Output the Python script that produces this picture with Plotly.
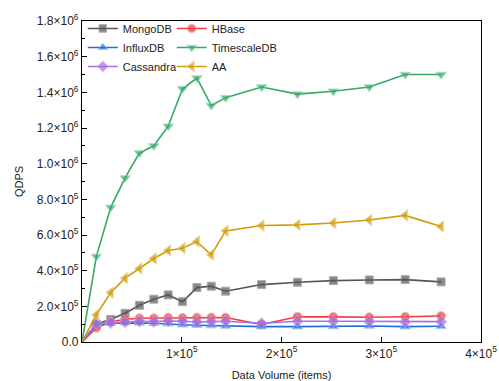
import plotly.graph_objects as go

x_items = [0, 14400, 28800, 43200, 57600, 72000, 86400, 100800, 115200, 129600,
           144000, 180000, 216000, 252000, 288000, 324000, 360000]

mongodb = [0, 100000, 127000, 161000, 206000, 240000, 264000, 226000, 305000, 313000,
           285000, 322000, 335000, 344000, 348000, 350000, 337000]
hbase = [0, 80000, 114000, 127000, 133000, 133000, 137000, 135000, 137000, 137000,
         137000, 98000, 142000, 141000, 139000, 142000, 146000]
influxdb = [0, 100000, 105000, 108000, 107000, 105000, 103000, 97000, 94000, 92000,
            90000, 86000, 86000, 87000, 90000, 86000, 88000]
timescaledb = [0, 480000, 755000, 920000, 1060000, 1100000, 1210000, 1420000, 1480000, 1326000,
               1370000, 1430000, 1390000, 1406000, 1430000, 1500000, 1500000]
cassandra = [0, 103000, 108000, 112000, 116000, 114000, 118000, 116000, 112000, 114000,
             116000, 105000, 116000, 116000, 114000, 112000, 114000]
aa = [0, 152000, 277000, 358000, 412000, 468000, 513000, 526000, 563000, 489000,
      623000, 653000, 657000, 667000, 684000, 710000, 648000]

y_tickvals = [0, 200000, 400000, 600000, 800000, 1000000, 1200000, 1400000, 1600000, 1800000]
y_ticktext = ["0.0", "2.0×10<sup>5</sup>", "4.0×10<sup>5</sup>", "6.0×10<sup>5</sup>",
              "8.0×10<sup>5</sup>", "1.0×10<sup>6</sup>", "1.2×10<sup>6</sup>",
              "1.4×10<sup>6</sup>", "1.6×10<sup>6</sup>", "1.8×10<sup>6</sup>"]
x_tickvals = [100000, 200000, 300000, 400000]
x_ticktext = ["1×10<sup>5</sup>", "2×10<sup>5</sup>", "3×10<sup>5</sup>", "4×10<sup>5</sup>"]

# name, values, colour, edge colour, symbol, size, legend column
series = [
    ("MongoDB", mongodb, "#555555", "#8a8a8a", "square", 8, "legend"),
    ("HBase", hbase, "#f03c40", "#f59a9c", "circle", 9, "legend2"),
    ("InfluxDB", influxdb, "#1f6fe0", "#86b3ee", "triangle-up", 9, "legend"),
    ("TimescaleDB", timescaledb, "#33aa66", "#8fd0aa", "triangle-down", 9, "legend2"),
    ("Cassandra", cassandra, "#a86ee0", "#d0b2ee", "diamond", 9, "legend"),
    ("AA", aa, "#d09c08", "#e8cc80", "triangle-left", 10, "legend2"),
]

fig = go.Figure()
for name, vals, col, edge, sym, sz, lg in series:
    sizes = [0] + [sz] * (len(vals) - 1)
    fig.add_trace(go.Scatter(
        x=x_items, y=vals, name=name, mode="lines+markers",
        line=dict(color=col, width=1.6),
        marker=dict(symbol=sym, size=sizes, color=col, line=dict(color=edge, width=1)),
        cliponaxis=True, legend=lg,
    ))

FONT = "Liberation Sans, Arial, sans-serif"
axis_common = dict(
    showline=True, linecolor="black", linewidth=1.2, mirror=True,
    ticks="inside", ticklen=5, tickcolor="black", tickwidth=1,
    showgrid=False, zeroline=False,
    tickfont=dict(family=FONT, size=12, color="#222"),
)

legend_common = dict(
    orientation="v", yanchor="top", xanchor="left", xref="paper", yref="paper",
    bgcolor="rgba(0,0,0,0)", font=dict(family=FONT, size=11, color="#222"),
    itemwidth=30, tracegroupgap=0,
)

fig.update_layout(
    width=499, height=381,
    margin=dict(l=82, r=18, t=21, b=39, autoexpand=False),
    paper_bgcolor="white", plot_bgcolor="white",
    font=dict(family=FONT, color="#222"),
    xaxis=dict(range=[0, 400000], tickmode="array", tickvals=x_tickvals, ticktext=x_ticktext,
               title=dict(text="Data Volume (items)", font=dict(size=11), standoff=15),
               automargin=False, **axis_common),
    yaxis=dict(range=[0, 1800000], tickmode="array", tickvals=y_tickvals, ticktext=y_ticktext,
               title=dict(text="QDPS", font=dict(size=11), standoff=10),
               minor=dict(ticks="inside", ticklen=3, tickcolor="black", dtick=100000,
                          tick0=0, showgrid=False),
               automargin=False, **axis_common),
    legend=dict(x=0.002, y=1.022, **legend_common),
    legend2=dict(x=0.225, y=1.022, **legend_common),
    showlegend=True,
)

fig.write_html("out.html", config={"displayModeBar": False},
               post_script="document.body.style.margin='0';document.body.style.padding='0';")
